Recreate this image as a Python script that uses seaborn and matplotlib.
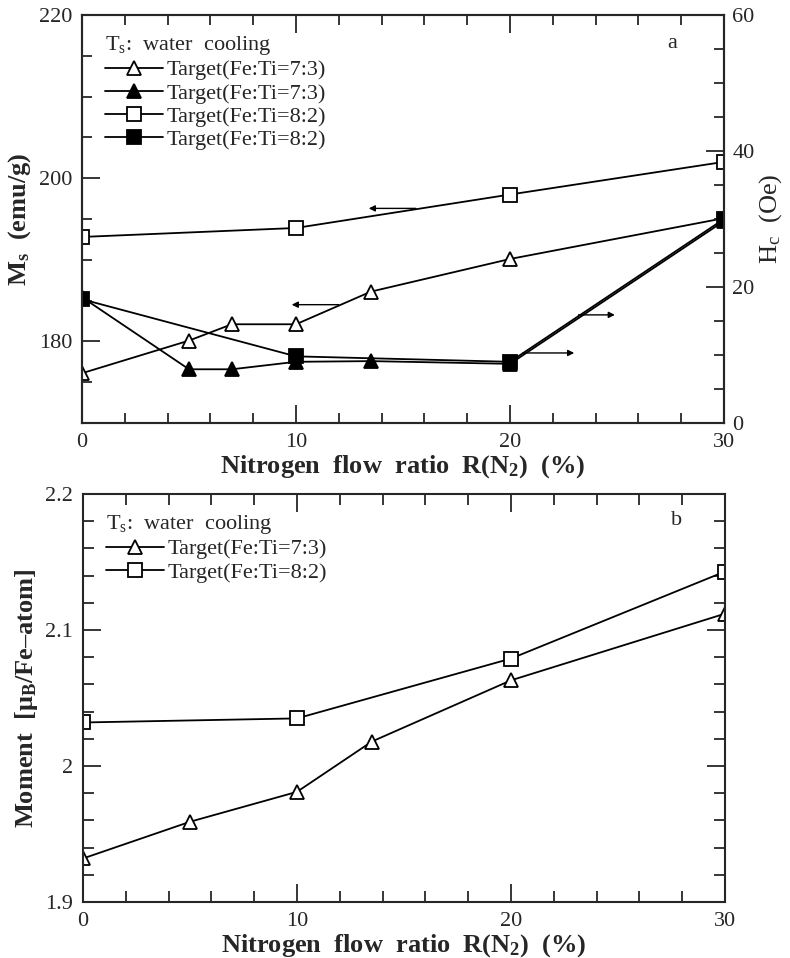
import numpy as np
import pandas as pd
import matplotlib
matplotlib.use("Agg")
import matplotlib.pyplot as plt
import seaborn as sns
from matplotlib.ticker import MultipleLocator, FuncFormatter
from matplotlib.lines import Line2D

# ---------------- data ----------------
r_73 = [0, 5, 7, 10, 13.5, 20, 30]
r_82 = [0, 10, 20, 30]
ms_73 = [176.1, 180.1, 182.1, 182.1, 186.1, 190.1, 195.1]
ms_82 = [192.8, 193.9, 198.0, 202.0]
hc_73 = [18.5, 7.9, 7.9, 9.0, 9.1, 8.7, 29.7]
hc_82 = [18.2, 9.8, 9.0, 30.0]

r_73b = [0, 5, 10, 13.5, 20, 30]
mom_73 = [1.932, 1.959, 1.981, 2.018, 2.063, 2.112]
mom_82 = [2.032, 2.035, 2.079, 2.143]

label_73 = "Target(Fe:Ti=7:3)"
label_82 = "Target(Fe:Ti=8:2)"
legend_title = "T$_\\mathrm{s}$:  water  cooling"
x_label = "Nitrogen  flow  ratio  R(N$_\\mathbf{2}$)  (%)"
ms_label = "M$_\\mathbf{s}$  (emu/g)"
hc_label = "H$_\\mathrm{c}$  (Oe)"
mom_label = "Moment  [\u03bc$_\\mathbf{B}$/Fe\u2013atom]"

# arrows: (x_from, x_to, y) in data units
ms_arrows = [(15.6, 13.4, 196.3), (12.0, 9.8, 184.5)]
hc_arrows = [(23.2, 24.9, 15.9), (20.6, 23.0, 10.3)]

# ---------------- style ----------------
sns.set_style("ticks")
plt.rcParams["font.family"] = ["Liberation Serif", "DejaVu Serif"]
plt.rcParams["mathtext.fontset"] = "custom"
plt.rcParams["mathtext.rm"] = "Liberation Serif"
plt.rcParams["mathtext.it"] = "Liberation Serif:italic"
plt.rcParams["mathtext.bf"] = "Liberation Serif:bold"
plt.rcParams["axes.linewidth"] = 1.5

fig = plt.figure(figsize=(7.9, 9.58), dpi=100)
W, H = 790, 958
def rect(l, t, r, b):
    return [l / W, 1 - b / H, (r - l) / W, (b - t) / H]

ax1 = fig.add_axes(rect(82, 15, 724, 423))
ax2 = ax1.twinx()
ax3 = fig.add_axes(rect(83, 494, 725, 902))

lw = 1.3
ms = 10
common = dict(color="black", linewidth=lw, markersize=ms, markeredgecolor="black",
              markeredgewidth=1.3, sort=False, legend=False)

sns.lineplot(x=r_73, y=ms_73, ax=ax1, marker="^", markerfacecolor="white", **common)
sns.lineplot(x=r_82, y=ms_82, ax=ax1, marker="s", markerfacecolor="white", **common)
sns.lineplot(x=r_73, y=hc_73, ax=ax2, marker="^", markerfacecolor="black", **common)
sns.lineplot(x=r_82, y=hc_82, ax=ax2, marker="s", markerfacecolor="black", **common)

sns.lineplot(x=r_73b, y=mom_73, ax=ax3, marker="^", markerfacecolor="white", **common)
sns.lineplot(x=r_82, y=mom_82, ax=ax3, marker="s", markerfacecolor="white", **common)

ap = dict(arrowstyle="-|>", color="black", lw=1.0, mutation_scale=9, shrinkA=0, shrinkB=0)
for x0, x1, y in ms_arrows:
    ax1.annotate("", xy=(x1, y), xytext=(x0, y), arrowprops=ap)
for x0, x1, y in hc_arrows:
    ax2.annotate("", xy=(x1, y), xytext=(x0, y), arrowprops=ap)

# limits & ticks
fmt = FuncFormatter(lambda v, p: f"{v:g}")
for ax in (ax1, ax3):
    ax.set_xlim(0, 30)
    ax.xaxis.set_major_locator(MultipleLocator(10))
    ax.xaxis.set_minor_locator(MultipleLocator(2))
    ax.xaxis.set_major_formatter(fmt)

ax1.set_ylim(170, 220)
ax1.yaxis.set_major_locator(MultipleLocator(20))
ax1.yaxis.set_minor_locator(MultipleLocator(5))
ax2.set_ylim(0, 60)
ax2.yaxis.set_major_locator(MultipleLocator(20))
ax2.yaxis.set_minor_locator(MultipleLocator(5))
ax3.set_ylim(1.9, 2.2)
ax3.yaxis.set_major_locator(MultipleLocator(0.1))
ax3.yaxis.set_minor_locator(MultipleLocator(0.02))
ax3.yaxis.set_major_formatter(fmt)
ax1.yaxis.set_major_formatter(fmt)
ax2.yaxis.set_major_formatter(fmt)

tick_fs = 16
ax1.tick_params(which="both", direction="in", top=True, right=False, labelsize=tick_fs, width=1.3)
ax1.tick_params(which="major", length=13, pad=7)
ax1.tick_params(which="minor", length=7)
ax2.tick_params(which="both", direction="in", labelsize=tick_fs, width=1.3)
ax2.tick_params(which="major", length=13, pad=6)
ax2.tick_params(which="minor", length=7)
ax3.tick_params(which="both", direction="in", top=True, right=True, labelsize=tick_fs, width=1.3)
ax3.tick_params(which="major", length=13, pad=7)
ax3.tick_params(which="minor", length=8)

lab_fs = 19
ax1.set_xlabel(x_label, fontsize=lab_fs, fontweight="bold", labelpad=1)
ax3.set_xlabel(x_label, fontsize=lab_fs, fontweight="bold", labelpad=1)
ax1.set_ylabel(ms_label, fontsize=lab_fs, fontweight="bold", labelpad=4)
ax2.set_ylabel(hc_label, fontsize=lab_fs, labelpad=2)
ax3.set_ylabel(mom_label, fontsize=lab_fs, fontweight="bold", labelpad=4)

ax1.text(0.92, 0.931, "a", transform=ax1.transAxes, fontsize=16, ha="center", va="center")
ax3.text(0.925, 0.936, "b", transform=ax3.transAxes, fontsize=16, ha="center", va="center")

def h(marker, fc):
    return Line2D([], [], color="black", lw=lw, marker=marker, markersize=ms,
                  markerfacecolor=fc, markeredgecolor="black", markeredgewidth=1.3)

leg_kw = dict(loc="upper left", frameon=False, fontsize=16, title_fontsize=16,
              handlelength=2.6, handletextpad=0.15, labelspacing=0.12,
              borderaxespad=0, numpoints=1, alignment="left")
leg1 = ax2.legend([h("^", "white"), h("^", "black"), h("s", "white"), h("s", "black")],
                  [label_73, label_73, label_82, label_82], title=legend_title,
                  bbox_to_anchor=(0.022, 0.975), **leg_kw)
leg3 = ax3.legend([h("^", "white"), h("s", "white")], [label_73, label_82],
                  title=legend_title, bbox_to_anchor=(0.022, 0.975), **leg_kw)

fig.savefig("out.png", dpi=100)
